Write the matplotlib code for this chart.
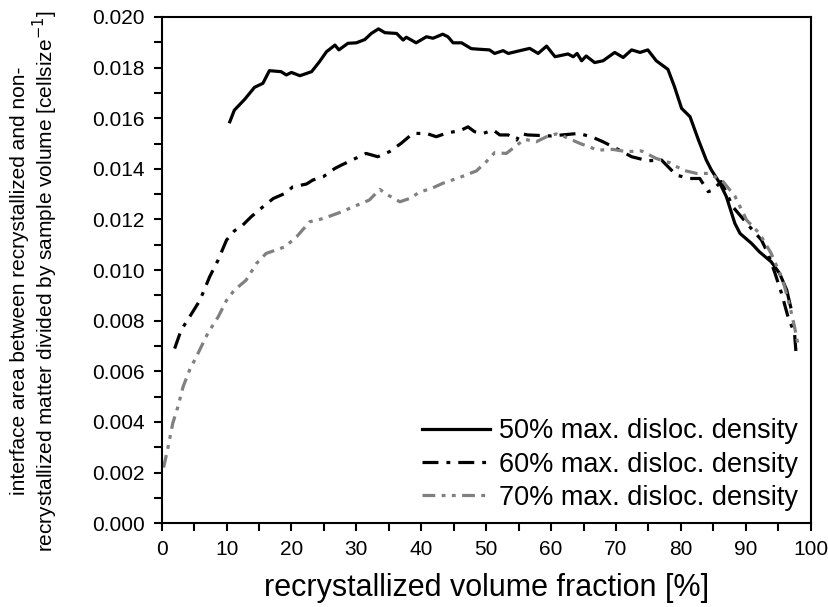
import matplotlib
matplotlib.use("Agg")
import matplotlib.pyplot as plt
from matplotlib.ticker import MultipleLocator

plt.rcParams['font.family'] = ['Liberation Sans', 'DejaVu Sans']

# 50% max. disloc. density
x50 = [10.5, 11.2, 12.8, 14.3, 15.6, 16.6, 18.4, 19.2, 20.0, 21.3, 23.1, 24.3, 25.4, 26.7, 27.3,
       28.7, 30.0, 31.3, 32.3, 33.4, 34.4, 36.2, 37.2, 37.7, 39.2, 40.8, 41.8, 43.3, 44.1, 44.9,
       46.2, 47.7, 48.7, 50.5, 51.3, 52.6, 53.4, 55.2, 56.7, 58.0, 59.3, 60.6, 62.6, 63.4, 64.0,
       64.7, 65.4, 66.7, 68.0, 69.8, 71.1, 72.4, 73.7, 74.9, 76.2, 78.0, 79.0, 80.1, 81.4, 82.7,
       83.9, 84.7, 86.0, 87.0, 88.3, 89.1, 90.9, 92.1, 93.9, 95.2, 96.3, 96.9]
y50 = [0.01586, 0.01632, 0.01675, 0.01722, 0.01738, 0.01788, 0.01784, 0.01771, 0.01781, 0.01768,
       0.01784, 0.01823, 0.01863, 0.01889, 0.01870, 0.01896, 0.01898, 0.01911, 0.01935, 0.01953,
       0.01938, 0.01935, 0.01909, 0.01920, 0.01898, 0.01922, 0.01916, 0.01932, 0.01922, 0.01898,
       0.01898, 0.01875, 0.01873, 0.01870, 0.01856, 0.01867, 0.01856, 0.01867, 0.01876, 0.01856,
       0.01885, 0.01843, 0.01854, 0.01843, 0.01856, 0.01827, 0.01846, 0.01820, 0.01827, 0.01860,
       0.01840, 0.01870, 0.01860, 0.01870, 0.01827, 0.01793, 0.01725, 0.01639, 0.01606, 0.01514,
       0.01435, 0.01395, 0.01343, 0.01290, 0.01185, 0.01145, 0.01105, 0.01072, 0.01033, 0.00987,
       0.00921, 0.00855]

# 60% max. disloc. density
x60 = [2.0, 3.0, 4.3, 5.9, 7.4, 8.7, 10.0, 11.2, 12.5, 13.8, 15.6, 17.2, 19.0, 20.2, 22.3, 23.3,
       24.9, 26.7, 27.7, 29.5, 31.5, 33.3, 35.1, 36.9, 38.7, 40.8, 42.3, 44.1, 45.9, 47.2, 48.2,
       49.5, 51.1, 52.1, 53.4, 54.7, 55.2, 56.4, 60.0, 64.2, 66.2, 68.0, 70.3, 72.4, 74.9, 77.0,
       79.3, 81.4, 82.9, 84.2, 84.9, 86.2, 88.0, 90.6, 92.4, 93.4, 94.5, 95.5, 96.5, 97.5, 97.8]
y60 = [0.00690, 0.00763, 0.00815, 0.00881, 0.00974, 0.01040, 0.01119, 0.01155, 0.01178, 0.01211,
       0.01250, 0.01283, 0.01303, 0.01329, 0.01340, 0.01356, 0.01369, 0.01402, 0.01415, 0.01437,
       0.01461, 0.01448, 0.01468, 0.01501, 0.01540, 0.01540, 0.01527, 0.01543, 0.01550, 0.01566,
       0.01547, 0.01540, 0.01553, 0.01534, 0.01534, 0.01514, 0.01540, 0.01534, 0.01530, 0.01540,
       0.01527, 0.01507, 0.01477, 0.01448, 0.01432, 0.01435, 0.01375, 0.01362, 0.01362, 0.01310,
       0.01316, 0.01350, 0.01250, 0.01171, 0.01119, 0.01066, 0.00987, 0.00908, 0.00815, 0.00750,
       0.00650]

# 70% max. disloc. density
x70 = [0.3, 1.0, 1.7, 2.5, 3.3, 4.3, 5.6, 7.1, 8.7, 10.0, 11.2, 13.0, 14.6, 16.1, 19.0, 20.8,
       22.8, 24.9, 27.7, 29.5, 32.0, 33.6, 34.9, 36.7, 38.2, 39.8, 41.6, 43.3, 45.9, 48.5, 50.0,
       51.3, 53.1, 54.4, 55.9, 57.7, 59.3, 60.8, 62.1, 64.4, 67.2, 69.5, 71.6, 73.9, 76.2, 78.3,
       80.3, 82.4, 84.4, 86.5, 88.3, 90.1, 92.1, 93.9, 95.7, 96.8, 97.5, 98.0]
y70 = [0.00220, 0.00302, 0.00394, 0.00460, 0.00539, 0.00605, 0.00671, 0.00750, 0.00815, 0.00881,
       0.00921, 0.00960, 0.01026, 0.01066, 0.01092, 0.01132, 0.01191, 0.01204, 0.01230, 0.01250,
       0.01277, 0.01319, 0.01296, 0.01270, 0.01283, 0.01309, 0.01323, 0.01343, 0.01366, 0.01392,
       0.01428, 0.01464, 0.01461, 0.01487, 0.01517, 0.01507, 0.01527, 0.01538, 0.01527, 0.01501,
       0.01474, 0.01477, 0.01468, 0.01471, 0.01441, 0.01424, 0.01395, 0.01382, 0.01382, 0.01349,
       0.01293, 0.01198, 0.01145, 0.01066, 0.00960, 0.00855, 0.00776, 0.00710]

labels = ["50% max. disloc. density", "60% max. disloc. density", "70% max. disloc. density"]

fig = plt.figure(figsize=(8.29, 6.07), dpi=100)
ax = fig.add_axes([0.195, 0.138, 0.783, 0.834])

ax.plot(x50, y50, color='black', lw=2.3, ls='-', label=labels[0])
ax.plot(x60, y60, color='black', lw=2.3, ls=(0, (5, 2.5, 1.2, 2.5)), label=labels[1])
ax.plot(x70, y70, color='#808080', lw=2.3, ls=(0, (4, 2, 1.2, 2, 1.2, 2)), label=labels[2])

ax.set_xlim(0, 100)
ax.set_ylim(0, 0.020)
ax.xaxis.set_major_locator(MultipleLocator(10))
ax.xaxis.set_minor_locator(MultipleLocator(5))
ax.yaxis.set_major_locator(MultipleLocator(0.002))
ax.yaxis.set_minor_locator(MultipleLocator(0.001))
ax.yaxis.set_major_formatter(matplotlib.ticker.FormatStrFormatter('%.3f'))
ax.tick_params(which='both', direction='out', width=1.5, length=6, labelsize=15, pad=6)
for s in ax.spines.values():
    s.set_linewidth(1.5)

ax.set_xlabel("recrystallized volume fraction [%]", fontsize=22, labelpad=10)
fig.text(35 / 829, 1 - 281 / 607,
         "interface area between recrystallized and non-\n"
         "recrystallized matter divided by sample volume [cellsize$^{-1}$]",
         fontsize=15, rotation=90, ha='center', va='center', linespacing=1.1,
         multialignment='center')

ax.legend(loc='lower right', frameon=False, fontsize=19.5, handlelength=2.5,
          handletextpad=0.32, labelspacing=0.26, borderaxespad=0, borderpad=0,
          bbox_to_anchor=(0.98, 0.025))

fig.savefig("out.png", dpi=100)
